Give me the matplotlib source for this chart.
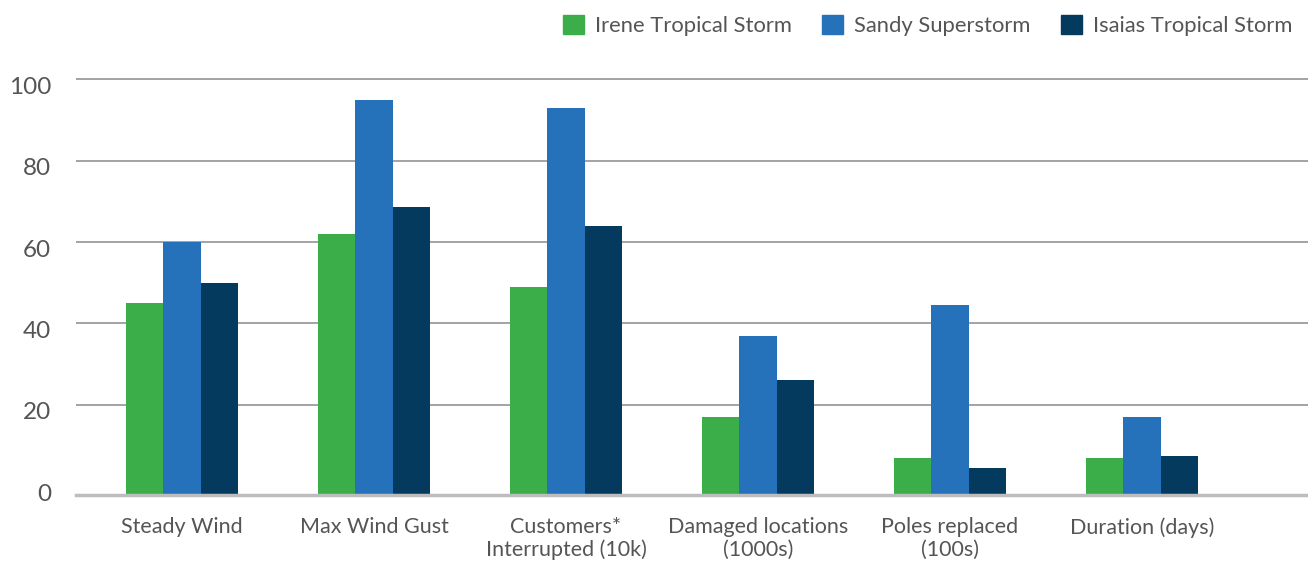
import numpy as np
import matplotlib.pyplot as plt
from matplotlib.patches import Patch
from matplotlib.transforms import ScaledTranslation

plt.rcParams['font.family'] = ['Lato', 'DejaVu Sans']

categories = ['Steady Wind', 'Max Wind Gust', 'Customers*\nInterrupted (10k)',
              'Damaged locations\n(1000s)', 'Poles replaced\n(100s)', 'Duration (days)']
series_names = ['Irene Tropical Storm', 'Sandy Superstorm', 'Isaias Tropical Storm']
irene = [45, 62, 49, 17, 7, 7]
sandy = [60, 95, 93, 37, 44.5, 17]
isaias = [50, 68.5, 64, 26, 4.5, 7.5]
colors = ['#3BAE49', '#2572BA', '#033A5E']

y_floor = -2.15  # baseline sits a little below zero in the original

fig = plt.figure(figsize=(13.08, 5.63), dpi=100)
ax = fig.add_axes([76 / 1308, 68 / 563, 1 - 76 / 1308, 417 / 563])

x = np.arange(len(categories))
w = 0.195
for i, (vals, c) in enumerate(zip([irene, sandy, isaias], colors)):
    v = np.array(vals)
    ax.bar(x + (i - 1) * w, v - y_floor, width=w, bottom=y_floor, color=c, zorder=3)

ax.set_xlim(-0.552, 5.865)
ax.set_ylim(y_floor, 100.3)
ax.set_yticks([0, 20, 40, 60, 80, 100])
ax.yaxis.grid(True, color='#8a8a8a', linewidth=1.1, zorder=0)
ax.yaxis.get_gridlines()[0].set_visible(False)
ax.axhline(y_floor, color='#bdbdbd', linewidth=2.5, zorder=4, clip_on=False)
for s in ax.spines.values():
    s.set_visible(False)
ax.tick_params(axis='both', length=0)
ax.tick_params(axis='y', labelsize=17.5, labelcolor='#555555', pad=18)
ax.set_xticks(x)
ax.set_xticklabels(categories, fontsize=15.5, color='#555555', linespacing=1.15)
ax.tick_params(axis='x', pad=16)

off = ScaledTranslation(0, -6 / 100, fig.dpi_scale_trans)
for lab in ax.get_yticklabels():
    lab.set_transform(lab.get_transform() + off)

handles = [Patch(color=c) for c in colors]
fig.legend(handles, series_names, loc='upper right', bbox_to_anchor=(1.0, 1.0),
           ncol=3, frameon=False, fontsize=15.8, handlelength=0.95, handleheight=0.95,
           handletextpad=0.5, columnspacing=1.4, labelcolor='#555555',
           borderaxespad=0.3)

fig.savefig('out.png', dpi=100)
